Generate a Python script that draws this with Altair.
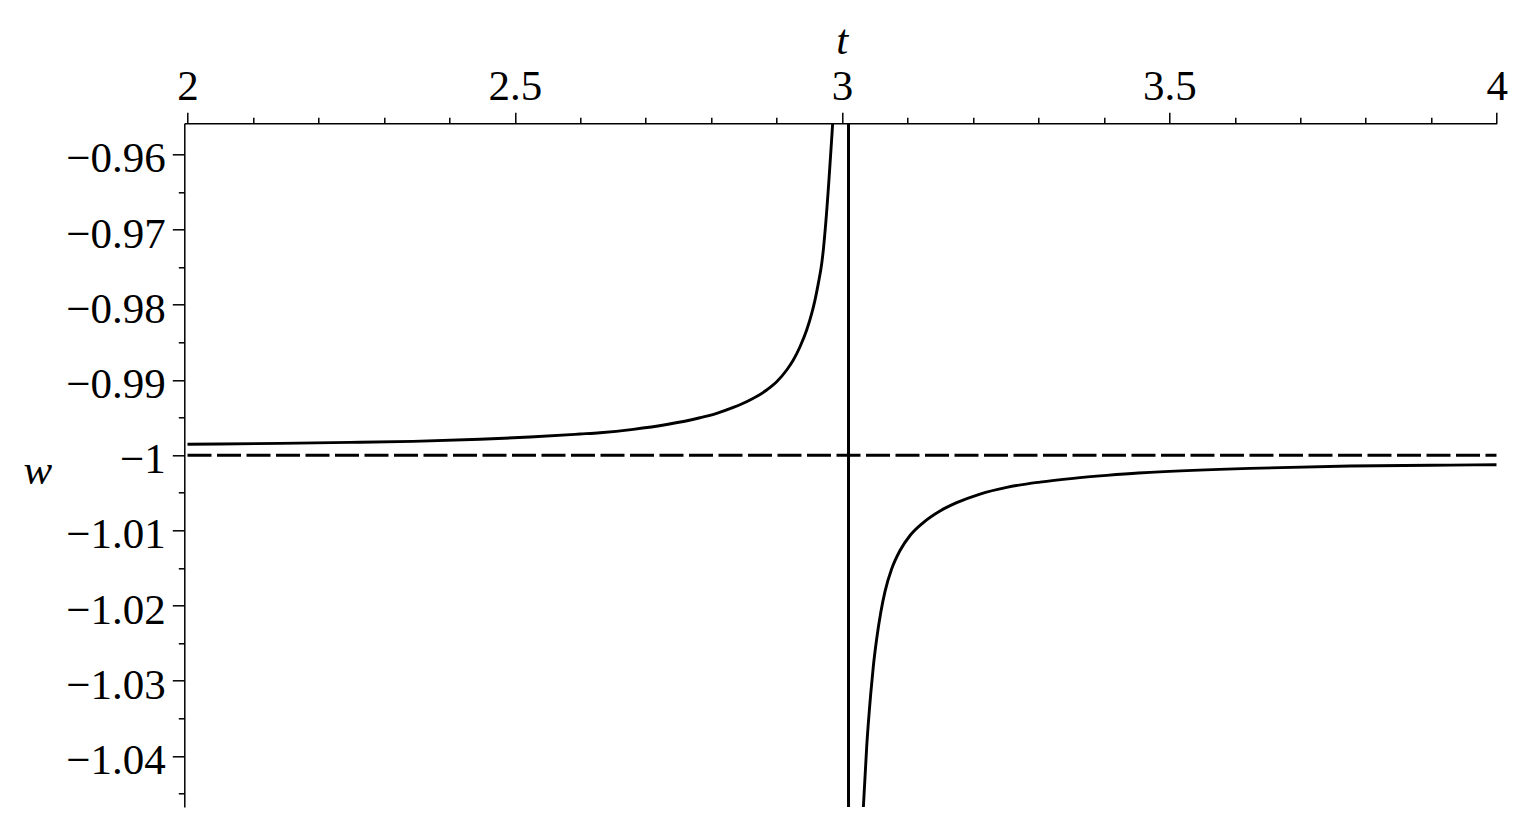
import altair as alt
import pandas as pd

# ---- data ----
left_t = [2.0, 2.1413, 2.2482, 2.3445, 2.4468, 2.5232, 2.5996, 2.6302, 2.6810, 2.7321,
          2.7829, 2.8084, 2.8338, 2.8593, 2.8848, 2.9001, 2.9154, 2.9255, 2.9357, 2.9459,
          2.9536, 2.9586, 2.9637, 2.9689, 2.9713, 2.9754, 2.9856]
left_w = [-0.99856, -0.99843, -0.99830, -0.99817, -0.99789, -0.99759, -0.99719, -0.99702,
          -0.99657, -0.99593, -0.99503, -0.99444, -0.99366, -0.99267, -0.99134, -0.99024,
          -0.98868, -0.98736, -0.98559, -0.98337, -0.98115, -0.97938, -0.97716, -0.97450,
          -0.97273, -0.96874, -0.95588]

right_t = [3.0324, 3.0376, 3.0437, 3.0477, 3.0529, 3.0590, 3.0656, 3.0758, 3.0885, 3.1038,
           3.1241, 3.1496, 3.1751, 3.2107, 3.2515, 3.3023, 3.3532, 3.4042, 3.4525, 3.4706,
           3.6231, 3.7759, 3.9287, 4.0]
right_w = [-1.04696, -1.03874, -1.03177, -1.02807, -1.02437, -1.02094, -1.01811, -1.01511,
           -1.01267, -1.01068, -1.00896, -1.00742, -1.00632, -1.00517, -1.00428, -1.00358,
           -1.00308, -1.00269, -1.00238, -1.00229, -1.00176, -1.00145, -1.00132, -1.00128]

asymptote_t = [3.0098]
ref_t = [2.0, 4.0]
ref_w = [-1.0, -1.0]

x_ticks = [2.0, 2.1, 2.2, 2.3, 2.4, 2.5, 2.6, 2.7, 2.8, 2.9, 3.0,
           3.1, 3.2, 3.3, 3.4, 3.5, 3.6, 3.7, 3.8, 3.9, 4.0]
y_ticks = [-0.96, -0.965, -0.97, -0.975, -0.98, -0.985, -0.99, -0.995, -1.0, -1.005,
           -1.01, -1.015, -1.02, -1.025, -1.03, -1.035, -1.04, -1.045]

curve = pd.DataFrame({
    "t": left_t + right_t,
    "w": left_w + right_w,
    "branch": ["left"] * len(left_t) + ["right"] * len(right_t),
})
ref = pd.DataFrame({"t": ref_t, "w": ref_w})
asym = pd.DataFrame({"t": asymptote_t})

FONT = "Liberation Serif"
FS = 43

x_minor = "round(datum.value*10) % 5 != 0"
y_minor = "round(abs(datum.value)*1000) % 10 != 0"

x_axis = alt.Axis(
    orient="top", values=x_ticks, grid=False,
    tickSize={"condition": {"test": x_minor, "value": 6}, "value": 11},
    labelExpr=f"{x_minor} ? '' : format(datum.value, '~g')",
    labelFont=FONT, labelFontSize=FS, labelColor="black",
    labelBaseline="alphabetic", labelPadding=13,
    labelFlush=False, labelBound=False, labelOverlap=False,
    domainColor="black", domainWidth=1.5, tickColor="black", tickWidth=1.5,
    title="t", titleFont=FONT, titleFontSize=FS, titleFontStyle="italic",
    titleFontWeight="normal", titleColor="black",
    titleAlign="center", titleBaseline="alphabetic", titleX=657.5, titleY=-70,
)
y_axis = alt.Axis(
    orient="left", values=y_ticks, grid=False,
    tickSize={"condition": {"test": y_minor, "value": 6}, "value": 12},
    labelExpr=f"{y_minor} ? '' : format(datum.value, '.3~g')",
    labelFont=FONT, labelFontSize=FS, labelColor="black",
    labelBaseline="middle", labelOffset=4.5, labelPadding=7,
    labelFlush=False, labelBound=False, labelOverlap=False,
    domainColor="black", domainWidth=1.5, tickColor="black", tickWidth=1.5,
    title="w", titleFont=FONT, titleFontSize=FS, titleFontStyle="italic",
    titleFontWeight="normal", titleColor="black", titleAngle=0,
    titleAlign="center", titleBaseline="alphabetic", titleX=-147, titleY=360,
)

x_scale = alt.Scale(domain=[1.99511, 4.0], nice=False, zero=False)
y_scale = alt.Scale(domain=[-1.04678, -0.955878], nice=False, zero=False)

x_enc = alt.X("t:Q", scale=x_scale, axis=x_axis)
y_enc = alt.Y("w:Q", scale=y_scale, axis=y_axis)

curve_layer = alt.Chart(curve).mark_line(
    color="black", strokeWidth=2.9, clip=True, interpolate="monotone"
).encode(x=x_enc, y=y_enc, detail="branch:N")

ref_layer = alt.Chart(ref).mark_line(
    color="black", strokeWidth=3, strokeDash=[24, 5.5], clip=True
).encode(x=x_enc, y=y_enc)

asym_layer = alt.Chart(asym).mark_rule(
    color="black", strokeWidth=3
).encode(x=x_enc)

chart = alt.layer(curve_layer, ref_layer, asym_layer).properties(
    width=1312.4, height=683.7,
    background="white",
    autosize=alt.AutoSizeParams(type="none"),
    padding={"left": 176.3, "top": 115.3, "right": 20, "bottom": 20},
).configure_view(strokeWidth=0, stroke="transparent")

chart.save("out.html", embed_options={"renderer": "svg", "actions": False})
